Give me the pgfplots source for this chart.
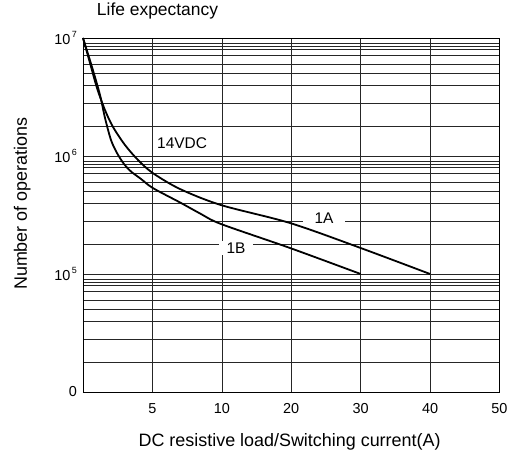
\documentclass[border=0pt]{standalone}
\usepackage{pgfplots}
\pgfplotsset{compat=1.18}
\usepackage{fontspec}
\setmainfont{Liberation Sans}

% 10 with a small raised exponent, as on the reference
\newcommand{\pw}[1]{10\raisebox{0.8ex}{\fontsize{9}{9}\selectfont\,#1}}

\begin{document}
\begin{tikzpicture}
\begin{axis}[
  scale only axis, width=416.5bp, height=354bp,
  ymode=log,
  xmin=0, xmax=6, ymin=1e4, ymax=1e7,
  xtick={1,2,3,4,5,6}, xticklabels={5,10,20,30,40,50},
  ytick={1e4,1e5,1e6,1e7},
  yticklabels={0\hspace{4bp},\pw{5},\pw{6},\pw{7}},
  minor ytick={17900,28100,40000,50500,60300,71800,79900,84700,89800,
               179000,281000,400000,505000,603000,718000,799000,847000,898000,
               1790000,2810000,4000000,5050000,6030000,7180000,7990000,8470000,8980000},
  grid=both,
  major grid style={black!85, line width=0.6bp},
  minor grid style={black!85, line width=0.6bp},
  major tick length=0pt, minor tick length=0pt,
  axis line style={black, line width=0.8bp},
  tick label style={font=\fontsize{14.5}{16}\selectfont},
  xticklabel style={inner sep=0pt, yshift=-11bp, anchor=north},
  yticklabel style={inner sep=0pt, xshift=-6bp, anchor=east},
  title={Life expectancy},
  title style={at={(axis description cs:0.033,1.046)}, anchor=base west,
               inner sep=0pt, font=\fontsize{17.5}{20}\selectfont},
  xlabel={DC resistive load/Switching current(A)},
  xlabel style={at={(axis description cs:0.496,-0.1545)}, anchor=base,
                inner sep=0pt, font=\fontsize{18}{20}\selectfont},
  ylabel={Number of operations},
  ylabel style={at={(axis description cs:-0.146,0.532)}, anchor=center,
                inner sep=0pt, font=\fontsize{18}{20}\selectfont},
  clip=false,
]

% labels sit on the grid with a white gap
\node[anchor=base west, inner sep=0pt, font=\fontsize{15.5}{17}\selectfont]
  at (axis cs:1.066,1.16e6) {14VDC};
\node[fill=white, inner xsep=12bp, inner ysep=1.5bp, font=\fontsize{15.5}{17}\selectfont]
  at (axis cs:3.472,2.95e5) {1A};
\node[fill=white, inner xsep=8bp, inner ysep=1.5bp, font=\fontsize{15.5}{17}\selectfont]
  at (axis cs:2.204,1.66e5) {1B};

% 1A
\addplot[black, line width=1.8bp, smooth, tension=0.5] coordinates {
  (0,1e7) (0.1008,6.14e6) (0.2017,3.77e6) (0.3169,2.45e6) (0.4322,1.762e6)
  (0.605,1.239e6) (0.7923,9.25e5) (1.004,7.18e5) (1.3973,5.25e5)
  (1.9879,3.84e5) (2.9819,2.705e5) (3.9614,1.693e5) (5,1e5)
};
% 1B
\addplot[black, line width=1.8bp, smooth, tension=0.5] coordinates {
  (0,1e7) (0.1296,5.68e6) (0.2449,3.29e6) (0.3169,2.10e6) (0.4033,1.366e6)
  (0.4898,1.06e6) (0.5906,8.55e5) (0.6914,7.39e5) (0.8355,6.39e5)
  (1.004,5.36e5) (1.3973,4.04e5) (1.6854,3.26e5) (1.9879,2.653e5)
  (2.9819,1.661e5) (4,1e5)
};

\coordinate (o) at (rel axis cs:0,0);
\end{axis}
\pgfresetboundingbox
\path[use as bounding box] (o) ++(-83bp,-63bp) rectangle ++(508bp,455bp);
\end{tikzpicture}
\end{document}
